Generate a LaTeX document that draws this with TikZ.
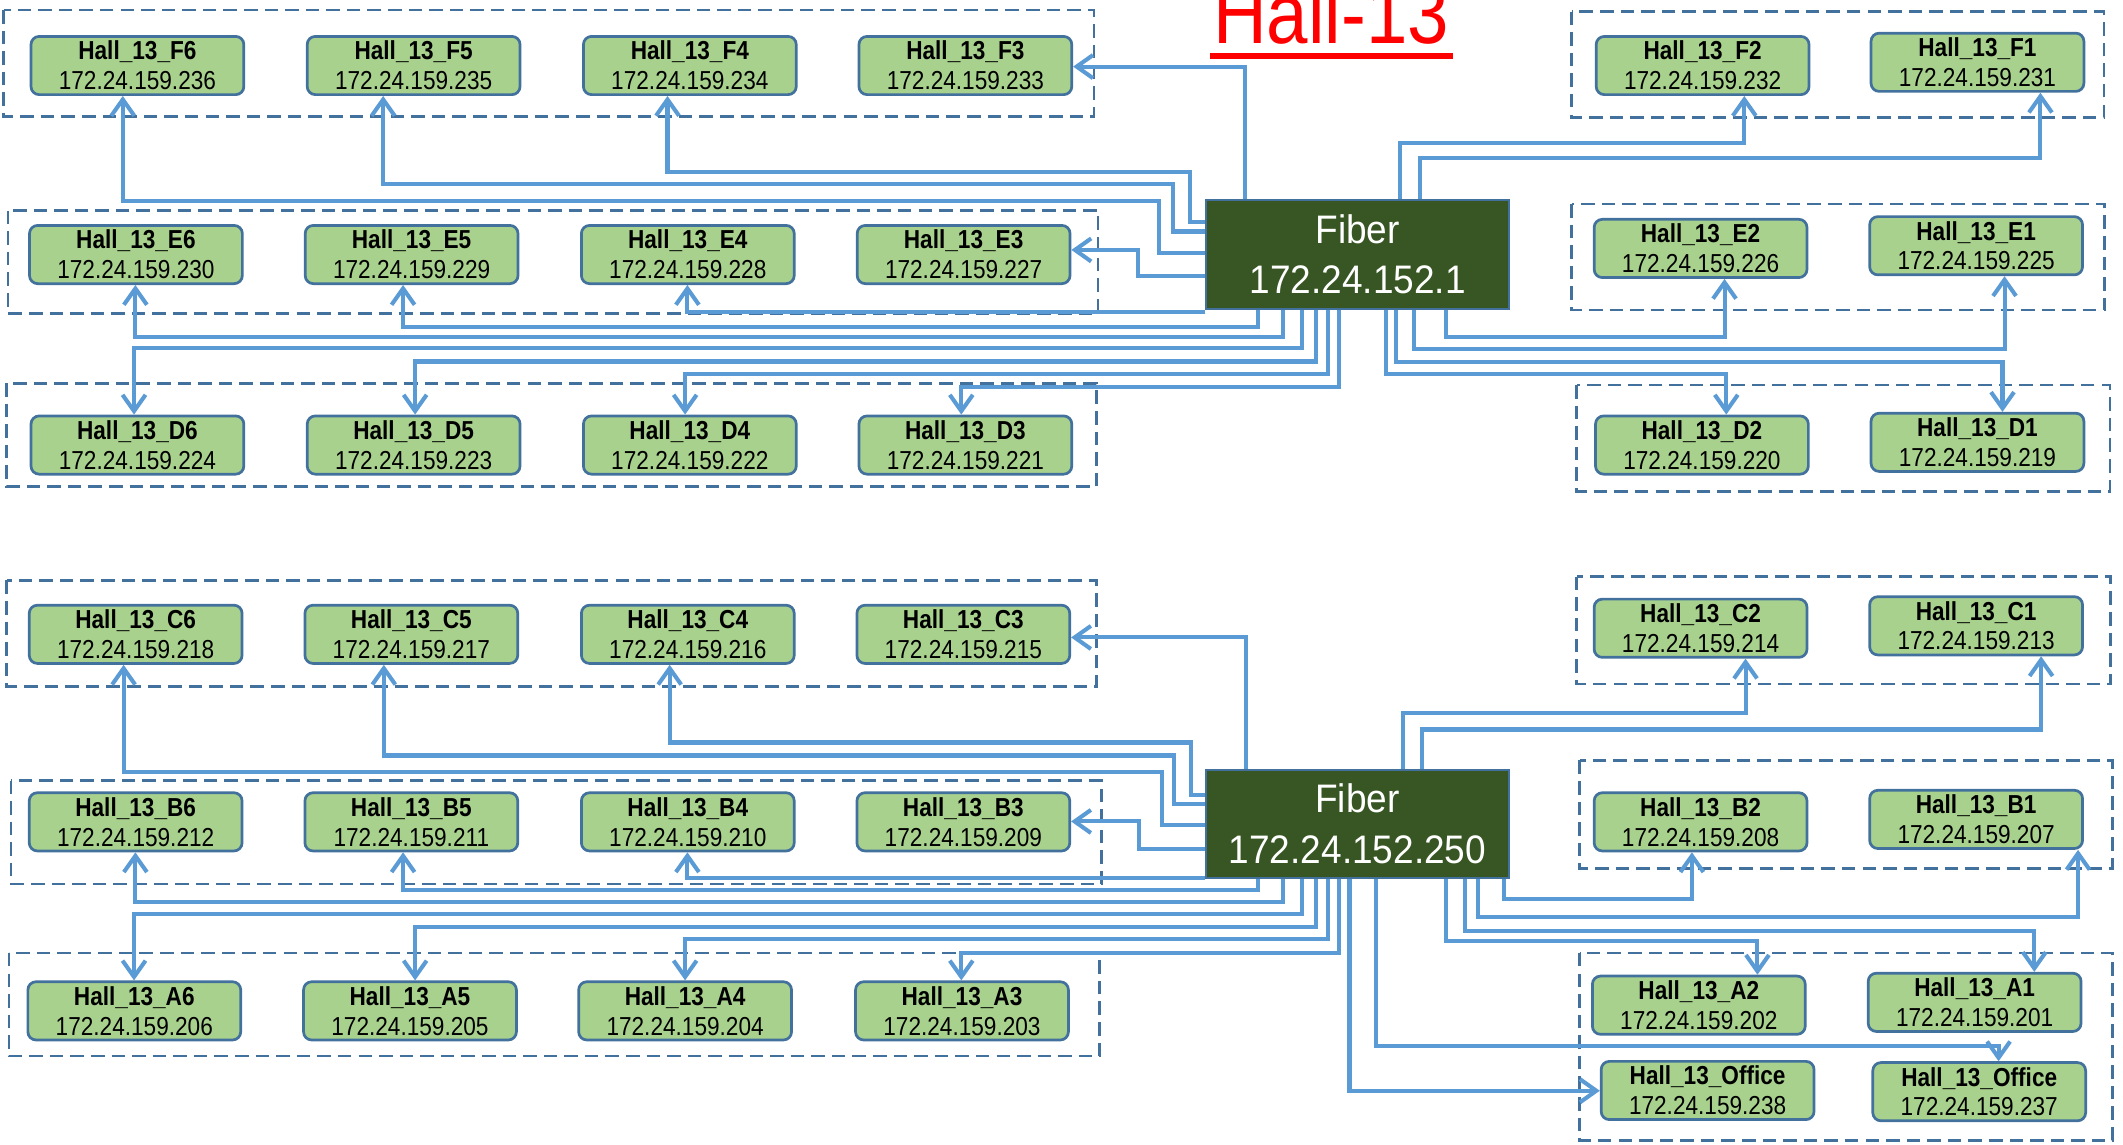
\documentclass[tikz,border=0pt]{standalone}
\usepackage{fontspec}
\setmainfont{Liberation Sans}
\newfontfamily\condfont[FakeStretch=0.87]{Liberation Sans}
\newfontfamily\fiberfont[FakeStretch=0.93]{Liberation Sans}
\usetikzlibrary{arrows.meta}
\definecolor{boxfill}{HTML}{A9D18E}
\definecolor{boxline}{HTML}{41719C}
\definecolor{conncol}{HTML}{5B9BD5}
\definecolor{fiberfill}{HTML}{375623}
\newcommand\hallnode[5]{\node[hbox] (#1) at (#2,#3) {{\bfseries Hall\_13\_#4}\\172.24.159.#5};}
\begin{document}
\begin{tikzpicture}[x=0.5pt,y=-0.5pt,
  hbox/.style={draw=boxline, line width=1pt, fill=boxfill, rounded corners=3pt,
    minimum width=78.6pt, minimum height=21.5pt, inner sep=0pt, align=center,
    font=\condfont\fontsize{9.6}{11}\selectfont},
  fiber/.style={draw=boxline, line width=0.8pt, fill=fiberfill, minimum width=111.75pt,
    minimum height=40pt, inner sep=0pt, align=center, text=white,
    font=\fiberfont\fontsize{14.7}{18.5}\selectfont},
  grp/.style={draw=boxline, line width=1pt, dash pattern=on 5pt off 2.6pt},
  conn/.style={draw=conncol, line width=1.5pt, -{Straight Barb[length=6pt,width=8.5pt]}},
]
\useasboundingbox (0,0) rectangle (1568,845);
\fill[white] (0,0) rectangle (1568,845);
\clip (0,0) rectangle (1568,845);

% title
\node[text=red, font=\condfont\fontsize{31.6}{34}\selectfont, anchor=base, inner sep=0pt] (title) at (983,32) {Hall-13};
\draw[red, line width=2pt] (894,41.4) -- (1073,41.4);

% dashed groups
\draw[grp] (2.6,7.4) rectangle (808,86.2);
\draw[grp] (1160.7,8.6) rectangle (1553.9,86.9);
\draw[grp] (6,155.6) rectangle (811,231.4);
\draw[grp] (1160.7,150.7) rectangle (1554.5,229);
\draw[grp] (5,283) rectangle (809.8,359.5);
\draw[grp] (1164.5,284.4) rectangle (1558.3,363);
\draw[grp] (5,428.7) rectangle (810,507.1);
\draw[grp] (1164.5,426) rectangle (1558.9,505.2);
\draw[grp] (8.2,576.5) rectangle (813.5,653);
\draw[grp] (1166.6,561.6) rectangle (1560.3,641.4);
\draw[grp] (6.6,703.8) rectangle (812,780);
\draw[grp] (1166.6,703.8) rectangle (1560.3,842.2);

% fiber switches
\node[fiber] (Fib1) at (1002.75,188) {Fiber\\172.24.152.1};
\node[fiber] (Fib2) at (1002.6,608.4) {Fiber\\172.24.152.250};

% top half nodes
\hallnode{F6}{101.5}{48.4}{F6}{236}
\hallnode{F5}{305.5}{48.4}{F5}{235}
\hallnode{F4}{509.5}{48.4}{F4}{234}
\hallnode{F3}{713}{48.4}{F3}{233}
\hallnode{F2}{1257.5}{48.4}{F2}{232}
\hallnode{F1}{1460.5}{46}{F1}{231}
\hallnode{E6}{100.4}{188}{E6}{230}
\hallnode{E5}{304}{188}{E5}{229}
\hallnode{E4}{508}{188}{E4}{228}
\hallnode{E3}{711.7}{188}{E3}{227}
\hallnode{E2}{1256}{183.5}{E2}{226}
\hallnode{E1}{1459.5}{181.5}{E1}{225}
\hallnode{D6}{101.5}{328.7}{D6}{224}
\hallnode{D5}{305.5}{328.7}{D5}{223}
\hallnode{D4}{509.5}{328.7}{D4}{222}
\hallnode{D3}{713}{328.7}{D3}{221}
\hallnode{D2}{1257}{328.7}{D2}{220}
\hallnode{D1}{1460.5}{326.7}{D1}{219}

% bottom half nodes
\hallnode{C6}{100.2}{468.5}{C6}{218}
\hallnode{C5}{303.8}{468.5}{C5}{217}
\hallnode{C4}{508}{468.5}{C4}{216}
\hallnode{C3}{711.5}{468.5}{C3}{215}
\hallnode{C2}{1256}{464}{C2}{214}
\hallnode{C1}{1459.5}{462.2}{C1}{213}
\hallnode{B6}{100.2}{607}{B6}{212}
\hallnode{B5}{303.8}{607}{B5}{211}
\hallnode{B4}{508}{607}{B4}{210}
\hallnode{B3}{711.5}{607}{B3}{209}
\hallnode{B2}{1256}{607}{B2}{208}
\hallnode{B1}{1459.5}{605.2}{B1}{207}
\hallnode{A6}{99.2}{746.6}{A6}{206}
\hallnode{A5}{302.8}{746.6}{A5}{205}
\hallnode{A4}{506}{746.6}{A4}{204}
\hallnode{A3}{710.5}{746.6}{A3}{203}
\hallnode{A2}{1254.7}{742.4}{A2}{202}
\hallnode{A1}{1458.4}{740.3}{A1}{201}
\hallnode{OffB}{1261.2}{805.4}{Office}{238}
\hallnode{OffA}{1461.8}{806.3}{Office}{237}

% ---- connectors, upper switch ----
\draw[conn] (Fib1.north -| 919.5,0) -- (919.5,49.2) -- (F3.east |- 0,49.2);
\draw[conn] (Fib1.west |- 0,163.7) -| (879,126.8) -| (F4.south -| 493,0);
\draw[conn] (Fib1.west |- 0,171) -| (866.5,136) -| (F5.south -| 283,0);
\draw[conn] (Fib1.west |- 0,187) -| (856,148.5) -| (F6.south -| 90.7,0);
\draw[conn] (Fib1.west |- 0,204) -| (840.5,184.6) -- (E3.east |- 0,184.6);
\draw[conn] (Fib1.south west |- 0,230.2) -| (E4.south -| 507.7,0);
\draw[conn] (Fib1.south -| 928.8,0) -- (928.8,241.2) -| (E5.south -| 297.7,0);
\draw[conn] (Fib1.south -| 947.7,0) -- (947.7,248.7) -| (E6.south -| 100,0);
\draw[conn] (Fib1.south -| 961.6,0) -- (961.6,257.3) -| (D6.north -| 99,0);
\draw[conn] (Fib1.south -| 972.2,0) -- (972.2,267) -| (D5.north -| 306.6,0);
\draw[conn] (Fib1.south -| 980.5,0) -- (980.5,276) -| (D4.north -| 506,0);
\draw[conn] (Fib1.south -| 989.1,0) -- (989.1,285.6) -| (D3.north -| 710,0);
\draw[conn] (Fib1.north -| 1034,0) -- (1034,105.4) -| (F2.south -| 1288.3,0);
\draw[conn] (Fib1.north -| 1049,0) -- (1049,116.5) -| (F1.south -| 1507,0);
\draw[conn] (Fib1.south -| 1068,0) -- (1068,248.7) -| (E2.south -| 1273.7,0);
\draw[conn] (Fib1.south -| 1044.5,0) -- (1044.5,257.5) -| (E1.south -| 1480.5,0);
\draw[conn] (Fib1.south -| 1031.3,0) -- (1031.3,267.5) -| (D1.north -| 1479,0);
\draw[conn] (Fib1.south -| 1023.8,0) -- (1023.8,276.5) -| (D2.north -| 1275,0);

% ---- connectors, lower switch ----
\draw[conn] (Fib2.north -| 920.2,0) -- (920.2,470.8) -- (C3.east |- 0,470.8);
\draw[conn] (Fib2.west |- 0,587.5) -| (879.5,548.4) -| (C4.south -| 494.6,0);
\draw[conn] (Fib2.west |- 0,593.8) -| (867.4,558) -| (C5.south -| 283.5,0);
\draw[conn] (Fib2.west |- 0,609.5) -| (858,570.4) -| (C6.south -| 91.3,0);
\draw[conn] (Fib2.west |- 0,626.8) -| (841,606.7) -- (B3.east |- 0,606.7);
\draw[conn] (Fib2.south west |- 0,648.6) -| (B4.south -| 507.7,0);
\draw[conn] (Fib2.south -| 928.8,0) -- (928.8,657.1) -| (B5.south -| 297.7,0);
\draw[conn] (Fib2.south -| 947.7,0) -- (947.7,666.1) -| (B6.south -| 100,0);
\draw[conn] (Fib2.south -| 961.6,0) -- (961.6,675) -| (A6.north -| 99,0);
\draw[conn] (Fib2.south -| 972.2,0) -- (972.2,684.6) -| (A5.north -| 306.6,0);
\draw[conn] (Fib2.south -| 980.5,0) -- (980.5,693.7) -| (A4.north -| 506,0);
\draw[conn] (Fib2.south -| 989.1,0) -- (989.1,703.8) -| (A3.north -| 710,0);
\draw[conn] (Fib2.north -| 1036.2,0) -- (1036.2,526.4) -| (C2.south -| 1289.2,0);
\draw[conn] (Fib2.north -| 1050.2,0) -- (1050.2,538.8) -| (C1.south -| 1507.5,0);
\draw[conn] (Fib2.south -| 1110.8,0) -- (1110.8,664) -| (B2.south -| 1249.6,0);
\draw[conn] (Fib2.south -| 1091.6,0) -- (1091.6,677.2) -| (B1.south -| 1534.8,0);
\draw[conn] (Fib2.south -| 1082.2,0) -- (1082.2,687.3) -| (A1.north -| 1502.5,0);
\draw[conn] (Fib2.south -| 1068.3,0) -- (1068.3,694.8) -| (A2.north -| 1298,0);
\draw[conn] (Fib2.south -| 1016.3,0) -- (1016.3,772.6) -| (OffA.north -| 1476.1,0);
\draw[conn] (Fib2.south -| 996.7,0) -- (996.7,805.6) -- (OffB.west |- 0,805.6);
\end{tikzpicture}
\end{document}
